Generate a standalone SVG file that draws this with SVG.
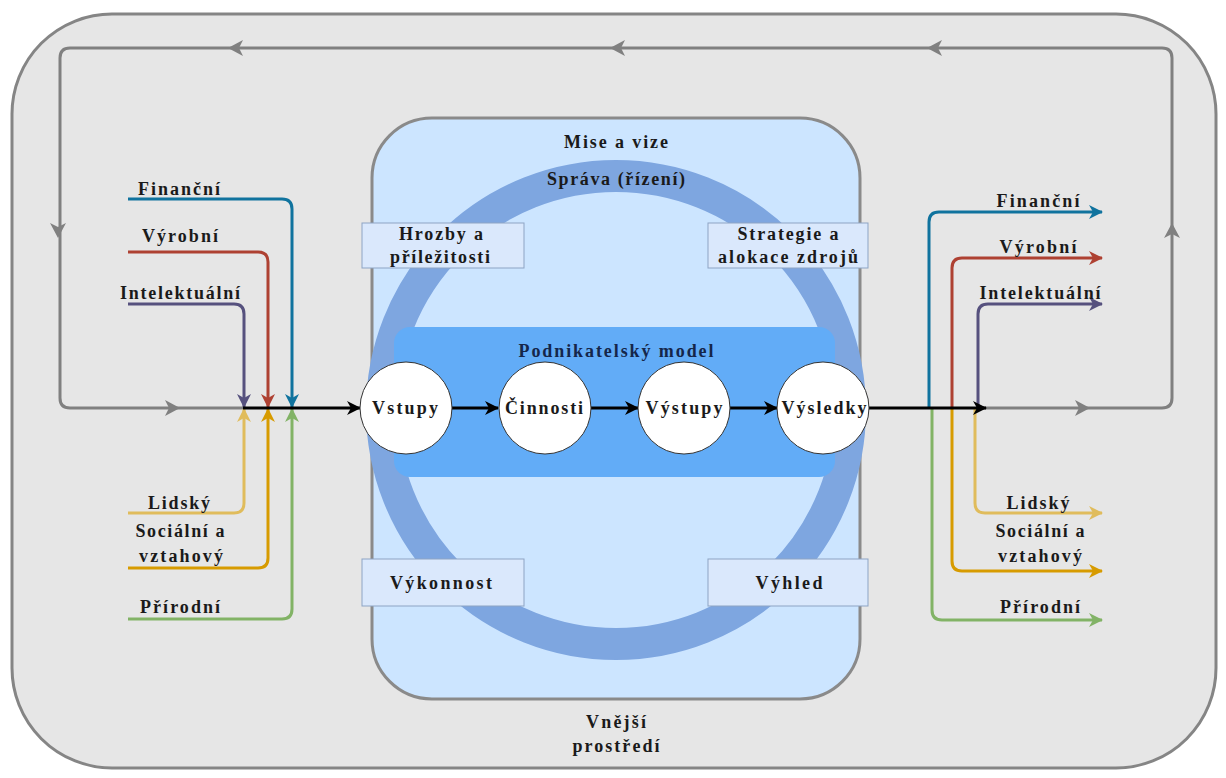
<svg xmlns="http://www.w3.org/2000/svg" width="1226" height="778" viewBox="0 0 1226 778">
<style>
.t{font-family:"Liberation Serif","DejaVu Serif",serif;font-size:18px;font-weight:700;fill:#1a1a1a;text-anchor:middle}
.ln{fill:none;stroke-width:3;stroke-linejoin:round}
.box{fill:#dae8fc;stroke:#8da4c4;stroke-width:1}
.node{fill:#ffffff;stroke:#333333;stroke-width:1}
</style>
<defs>
<marker id="mk" viewBox="0 0 14 14" markerWidth="14" markerHeight="14" refX="13" refY="7" orient="auto" markerUnits="userSpaceOnUse"><path d="M0,0 L14,7 L0,14 L4,7 z" fill="#000"/></marker>
<marker id="mblue" viewBox="0 0 14 14" markerWidth="14" markerHeight="14" refX="13" refY="7" orient="auto" markerUnits="userSpaceOnUse"><path d="M0,0 L14,7 L0,14 L4,7 z" fill="#10739e"/></marker>
<marker id="mred" viewBox="0 0 14 14" markerWidth="14" markerHeight="14" refX="13" refY="7" orient="auto" markerUnits="userSpaceOnUse"><path d="M0,0 L14,7 L0,14 L4,7 z" fill="#ae4132"/></marker>
<marker id="mpur" viewBox="0 0 14 14" markerWidth="14" markerHeight="14" refX="13" refY="7" orient="auto" markerUnits="userSpaceOnUse"><path d="M0,0 L14,7 L0,14 L4,7 z" fill="#56517e"/></marker>
<marker id="mlor" viewBox="0 0 14 14" markerWidth="14" markerHeight="14" refX="13" refY="7" orient="auto" markerUnits="userSpaceOnUse"><path d="M0,0 L14,7 L0,14 L4,7 z" fill="#e0bc5c"/></marker>
<marker id="mor" viewBox="0 0 14 14" markerWidth="14" markerHeight="14" refX="13" refY="7" orient="auto" markerUnits="userSpaceOnUse"><path d="M0,0 L14,7 L0,14 L4,7 z" fill="#d79b00"/></marker>
<marker id="mgr" viewBox="0 0 14 14" markerWidth="14" markerHeight="14" refX="13" refY="7" orient="auto" markerUnits="userSpaceOnUse"><path d="M0,0 L14,7 L0,14 L4,7 z" fill="#82b366"/></marker>
<path id="gah" d="M0,0 L-15,-8 L-11,0 L-15,8 z" fill="#808080"/>
</defs>

<g id="outer">
<rect x="12" y="14" width="1204" height="754" rx="100" ry="100" fill="#e6e6e6" stroke="#858585" stroke-width="3"/>
<text class="t" x="616" y="728" textLength="60" lengthAdjust="spacing">Vnější</text>
<text class="t" x="616" y="752" textLength="87" lengthAdjust="spacing">prostředí</text>
</g>

<g id="inner">
<rect x="372" y="118" width="488" height="581" rx="60" ry="60" fill="#cce5ff" stroke="#8a8a8a" stroke-width="3"/>
<circle cx="616" cy="410" r="234" fill="none" stroke="#7ea6e0" stroke-width="32"/>
<text class="t" x="616" y="148" textLength="104" lengthAdjust="spacing">Mise a vize</text>
<text class="t" x="616" y="185" textLength="138" lengthAdjust="spacing">Správa (řízení)</text>
</g>

<g id="hrozby"><rect class="box" x="362" y="223" width="162" height="45"/><text class="t" x="441" y="240" textLength="84" lengthAdjust="spacing">Hrozby a</text><text class="t" x="440" y="263" textLength="100" lengthAdjust="spacing">příležitosti</text></g>
<g id="strategie"><rect class="box" x="708" y="223" width="160" height="45"/><text class="t" x="788" y="240" textLength="101" lengthAdjust="spacing">Strategie a</text><text class="t" x="788" y="263" textLength="140" lengthAdjust="spacing">alokace zdrojů</text></g>
<g id="vykonnost"><rect class="box" x="362" y="559" width="162" height="47"/><text class="t" x="441" y="589" textLength="102" lengthAdjust="spacing">Výkonnost</text></g>
<g id="vyhled"><rect class="box" x="708" y="559" width="160" height="47"/><text class="t" x="789" y="589" textLength="67" lengthAdjust="spacing">Výhled</text></g>

<g id="model">
<rect x="394" y="327" width="441" height="150" rx="16" ry="16" fill="#62acf7"/>
<text class="t" x="616" y="357" style="fill:#15264a" textLength="195" lengthAdjust="spacing">Podnikatelský model</text>
</g>

<g id="connectors">
<path class="ln" stroke="#808080" d="M985,408 H1162 Q1172,408 1172,398 V58 Q1172,48 1162,48 H70 Q60,48 60,58 V398 Q60,408 70,408 H244"/>
<use href="#gah" transform="translate(1090,408)"/>
<use href="#gah" transform="translate(180,408)"/>
<use href="#gah" transform="translate(1172,223) rotate(-90)"/>
<use href="#gah" transform="translate(58,238) rotate(90)"/>
<use href="#gah" transform="translate(927,48) rotate(180)"/>
<use href="#gah" transform="translate(610,48) rotate(180)"/>
<use href="#gah" transform="translate(228,48) rotate(180)"/>
<path class="ln" stroke="#10739e" marker-end="url(#mblue)" d="M128,199 H282 Q292,199 292,209 V407"/>
<path class="ln" stroke="#ae4132" marker-end="url(#mred)" d="M128,252 H258 Q268,252 268,262 V407"/>
<path class="ln" stroke="#56517e" marker-end="url(#mpur)" d="M128,304 H234 Q244,304 244,314 V407"/>
<path class="ln" stroke="#e0bc5c" marker-end="url(#mlor)" d="M128,513 H234 Q244,513 244,503 V409"/>
<path class="ln" stroke="#d79b00" marker-end="url(#mor)" d="M128,568 H258 Q268,568 268,558 V409"/>
<path class="ln" stroke="#82b366" marker-end="url(#mgr)" d="M128,619 H282 Q292,619 292,609 V409"/>
<path class="ln" stroke="#10739e" marker-end="url(#mblue)" d="M929,408 V222 Q929,212 939,212 H1102"/>
<path class="ln" stroke="#ae4132" marker-end="url(#mred)" d="M952,408 V268 Q952,258 962,258 H1102"/>
<path class="ln" stroke="#56517e" marker-end="url(#mpur)" d="M978,408 V314 Q978,304 988,304 H1102"/>
<path class="ln" stroke="#e0bc5c" marker-end="url(#mlor)" d="M975,408 V503 Q975,513 985,513 H1102"/>
<path class="ln" stroke="#d79b00" marker-end="url(#mor)" d="M952,408 V561 Q952,571 962,571 H1102"/>
<path class="ln" stroke="#82b366" marker-end="url(#mgr)" d="M932,408 V610 Q932,620 942,620 H1102"/>
<path class="ln" stroke="#000" marker-end="url(#mk)" d="M243,408 H360"/>
<path class="ln" stroke="#000" marker-end="url(#mk)" d="M452,408 H498"/>
<path class="ln" stroke="#000" marker-end="url(#mk)" d="M591,408 H638"/>
<path class="ln" stroke="#000" marker-end="url(#mk)" d="M730,408 H777"/>
<path class="ln" stroke="#000" marker-end="url(#mk)" d="M869,408 H986"/>
</g>

<g id="lbl-left">
<text class="t" x="179" y="195" textLength="82" lengthAdjust="spacing">Finanční</text>
<text class="t" x="180" y="242" textLength="76" lengthAdjust="spacing">Výrobní</text>
<text class="t" x="180" y="299" textLength="120" lengthAdjust="spacing">Intelektuální</text>
<text class="t" x="179" y="509" textLength="62" lengthAdjust="spacing">Lidský</text>
<text class="t" x="180" y="537" textLength="89" lengthAdjust="spacing">Sociální a</text>
<text class="t" x="181" y="562" textLength="84" lengthAdjust="spacing">vztahový</text>
<text class="t" x="180" y="613" textLength="80" lengthAdjust="spacing">Přírodní</text>
</g>
<g id="lbl-right">
<text class="t" x="1038" y="207" textLength="83" lengthAdjust="spacing">Finanční</text>
<text class="t" x="1038" y="253" textLength="77" lengthAdjust="spacing">Výrobní</text>
<text class="t" x="1040" y="299" textLength="121" lengthAdjust="spacing">Intelektuální</text>
<text class="t" x="1038" y="509" textLength="63" lengthAdjust="spacing">Lidský</text>
<text class="t" x="1040" y="537" textLength="89" lengthAdjust="spacing">Sociální a</text>
<text class="t" x="1040" y="562" textLength="84" lengthAdjust="spacing">vztahový</text>
<text class="t" x="1040" y="613" textLength="80" lengthAdjust="spacing">Přírodní</text>
</g>

<g id="vstupy"><circle class="node" cx="406" cy="408" r="46"/><text class="t" x="405" y="414" textLength="66" lengthAdjust="spacing">Vstupy</text></g>
<g id="cinnosti"><circle class="node" cx="545" cy="408" r="46"/><text class="t" x="544" y="414" textLength="78" lengthAdjust="spacing">Činnosti</text></g>
<g id="vystupy"><circle class="node" cx="684" cy="408" r="46"/><text class="t" x="684" y="414" textLength="77" lengthAdjust="spacing">Výstupy</text></g>
<g id="vysledky"><circle class="node" cx="823" cy="408" r="46"/><text class="t" x="824" y="414" textLength="85" lengthAdjust="spacing">Výsledky</text></g>
</svg>
